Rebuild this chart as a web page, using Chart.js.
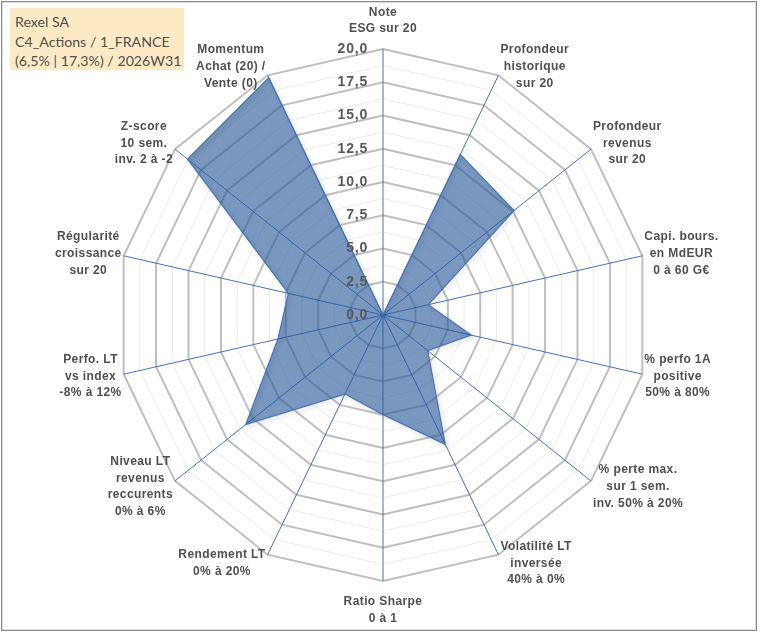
<!DOCTYPE html>
<html>
<head>
<meta charset="utf-8">
<script src="https://cdn.jsdelivr.net/npm/chart.js@4.4.1/dist/chart.umd.min.js"></script>
<style>
  html, body { margin: 0; padding: 0; background: #fff; }
  #wrap { position: relative; width: 760px; height: 633px; overflow: hidden; }
  #frame { position: absolute; left: 1px; top: 1px; width: 754px; height: 628px;
           border: 1px solid #8c8c8c; box-shadow: inset 0 0 0 1px #dcdcdc; pointer-events: none; }
  #tag { position: absolute; left: 10px; top: 8px; width: 166px; height: 54px;
         padding: 4px 3px 4px 5px; background: #fdeac4; color: #505050;
         font: 14.2px "Lato", "Liberation Sans", sans-serif; line-height: 19.5px; white-space: nowrap; }
</style>
</head>
<body>
<div id="wrap">
  <canvas id="myChart" width="760" height="633"></canvas>
  <div id="tag">Rexel SA<br>C4_Actions / 1_FRANCE<br>(6,5% | 17,3%) / 2026W31</div>
  <div id="frame"></div>
</div>
<script>
// axes of the radar, top then clockwise
var categories = [
    ['Note', 'ESG sur 20'],
    ['Profondeur', 'historique', 'sur 20'],
    ['Profondeur', 'revenus', 'sur 20'],
    ['Capi. bours.', 'en MdEUR', '0 à 60 G€'],
    ['% perfo 1A', 'positive', '50% à 80%'],
    ['% perte max.', 'sur 1 sem.', 'inv. 50% à 20%'],
    ['Volatilité LT', 'inversée', '40% à 0%'],
    ['Ratio Sharpe', '0 à 1'],
    ['Rendement LT', '0% à 20%'],
    ['Niveau LT', 'revenus', 'reccurents', '0% à 6%'],
    ['Perfo. LT', 'vs index', '-8% à 12%'],
    ['Régularité', 'croissance', 'sur 20'],
    ['Z-score', '10 sem.', 'inv. 2 à -2'],
    ['Momentum', 'Achat (20) /', 'Vente (0)'],
];
var scores = [0, 13.4, 12.6, 3.5, 6.8, 4.3, 10.8, 7.5, 6.6, 13.2, 8.1, 7.3, 18.8, 19.8];
var tickValues = [0, 2.5, 5, 7.5, 10, 12.5, 15, 17.5, 20];

function isMajor(v) {
    return tickValues.indexOf(v) >= 0;
}

// soft shadow under the filled area
var areaShadow = {
    id: 'areaShadow',
    beforeDatasetDraw(chart) {
        let ctx = chart.ctx;
        ctx.save();
        ctx.shadowColor = 'rgba(0,0,0,0.25)';
        ctx.shadowBlur = 4;
        ctx.shadowOffsetX = 2;
        ctx.shadowOffsetY = 2;
    },
    afterDatasetDraw(chart) {
        chart.ctx.restore();
    },
};

var radarText = {
    id: 'radarText',
    afterDatasetsDraw(chart) {
        let r = chart.scales.r;
        let ctx = chart.ctx;
        ctx.save();
        ctx.fillStyle = '#595959';
        // value labels along the top axis
        ctx.font = 'bold 14px "Liberation Sans", Arial, sans-serif';
        ctx.letterSpacing = '0.8px';
        ctx.textAlign = 'right';
        ctx.textBaseline = 'middle';
        r.ticks.forEach(t => {
            if (!isMajor(t.value)) return;
            let d = r.getDistanceFromCenterForValue(t.value);
            ctx.fillText(t.value.toFixed(1).replace('.', ','), r.xCenter - 15, r.yCenter - d);
        });
        // axis names
        ctx.fillStyle = '#505050';
        ctx.font = 'bold 12px "Liberation Sans", Arial, sans-serif';
        ctx.letterSpacing = '0.4px';
        ctx.textAlign = 'center';
        let lh = 16.7;
        let n = categories.length;
        categories.forEach((lines, i) => {
            let a = 2 * Math.PI * i / n;
            let s = Math.sin(a), c = Math.cos(a);
            let pt = r.getPointPosition(i, r.drawingArea);
            let w = Math.max(...lines.map(l => ctx.measureText(l).width));
            let cx, y0;
            if (Math.abs(s) < 0.01) {
                cx = pt.x;
                y0 = c > 0 ? pt.y - 20 - (lines.length - 1) * lh : pt.y + 21;
            } else {
                cx = pt.x + Math.sign(s) * (w / 2 + 2);
                y0 = pt.y - 9.5 * c - (lines.length - 1) * lh / 2;
            }
            lines.forEach((l, k) => ctx.fillText(l, cx, y0 + k * lh));
        });
        ctx.restore();
    },
};

var chart = new Chart(document.getElementById('myChart'), {
    type: 'radar',
    data: {
        labels: categories,
        datasets: [
            {
                label: 'Rexel SA',
                data: scores,
                fill: true,
                backgroundColor: 'rgba(40,88,152,0.62)',
                borderColor: '#4472c4',
                borderWidth: 1.2,
                pointRadius: 0,
                pointHoverRadius: 0,
            },
        ],
    },
    options: {
        responsive: false,
        animation: false,
        devicePixelRatio: 1,
        layout: { padding: { left: 7, right: 0, top: 49, bottom: 51 } },
        scales: {
            r: {
                min: 0,
                max: 20,
                ticks: { display: false, stepSize: 1.25 },
                pointLabels: { display: false },
                grid: {
                    color: (c) => isMajor(c.tick.value) ? '#bfbfbf' : '#ebebeb',
                    lineWidth: (c) => isMajor(c.tick.value) ? 2 : 1,
                },
                angleLines: { color: '#4472c4', lineWidth: 1 },
            },
        },
        plugins: {
            legend: { display: false },
            tooltip: { enabled: false },
        },
    },
    plugins: [areaShadow, radarText],
});
</script>
</body>
</html>
